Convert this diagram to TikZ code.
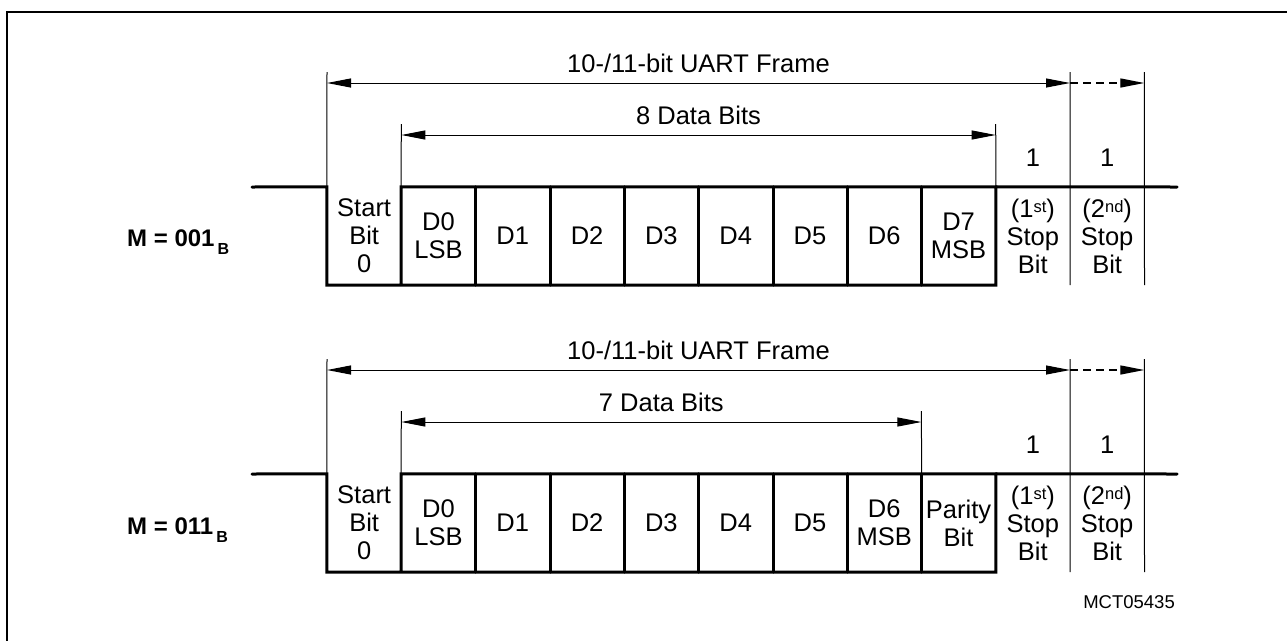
\documentclass[tikz,border=0pt]{standalone}
\usepackage{fontspec}
\setmainfont{Liberation Sans}
\usetikzlibrary{arrows.meta,calc}
\newcommand\supx[1]{\raisebox{4.5pt}{\fontsize{16.5}{16.5}\selectfont #1}}
\newcommand\subx[1]{\kern3pt\raisebox{-8pt}{\fontsize{16}{16}\selectfont #1}}
\begin{document}
\begin{tikzpicture}[x=1pt,y=-1pt,
  every node/.style={font=\fontsize{25.5}{28}\selectfont, inner sep=0pt},
  sig/.style={line width=3pt, line join=miter, line cap=round},
  thinl/.style={line width=1pt},
  cell/.style={minimum width=74.3pt, minimum height=98pt, align=center, inner sep=0pt},
  tip/.tip={Triangle[length=24pt,width=9pt]},
  arr/.style={thinl, tip-tip},
  darr/.style={line width=1.3pt, dash pattern=on 8pt off 5pt, -tip},
  mlabel/.style={anchor=base west, font=\fontsize{24}{26}\selectfont\bfseries},
  lbl/.style={anchor=base}
]
\useasboundingbox (0,0) rectangle (1287,641);
\draw[line width=2pt] (1287,12) -- (7,12) -- (7,641);
\def\bx#1{327+74.3*#1}

% ---------------- Row 1 ----------------
\node[cell] (a0) at ({\bx{0.5}},236) {Start\\Bit\\0};
\node[cell] (a1) at ({\bx{1.5}},236) {D0\\LSB};
\node[cell] (a2) at ({\bx{2.5}},236) {D1};
\node[cell] (a3) at ({\bx{3.5}},236) {D2};
\node[cell] (a4) at ({\bx{4.5}},236) {D3};
\node[cell] (a5) at ({\bx{5.5}},236) {D4};
\node[cell] (a6) at ({\bx{6.5}},236) {D5};
\node[cell] (a7) at ({\bx{7.5}},236) {D6};
\node[cell] (a8) at ({\bx{8.5}},236) {D7\\MSB};
\node[cell] (a9) at ({\bx{9.5}},236) {(1\supx{st})\\Stop\\Bit};
\node[cell] (a10) at ({\bx{10.5}},236) {(2\supx{nd})\\Stop\\Bit};

\coordinate (a-idle) at (252,187);
\coordinate (a-end) at (1177,187);
\draw[sig] (a-idle) -- (a0.north west) -- (a0.south west) -- (a8.south east)
  -- (a8.north east) -- (a1.north west) -- (a1.south west);
\draw[sig] (a8.north east) -- (a-end);
\foreach \i in {1,...,7} \draw[sig] (a\i.north east) -- (a\i.south east);

\coordinate (a-ft) at (327,72);
\coordinate (a-dt) at ({\bx{1}},124);
\coordinate (a-de) at ({\bx{9}},124);
\coordinate (a-s1) at ({\bx{10}},72);
\coordinate (a-s2) at ({\bx{11}},72);
\draw[thinl] (a-ft) -- (a0.north west);
\draw[thinl] (a-dt) -- (a1.north west);
\draw[thinl] (a-de) -- (a8.north east);
\draw[thinl] (a-s1) -- (a9.south east);
\draw[thinl] (a-s2) -- (a10.south east);

\coordinate (a-fl) at (327,83);
\coordinate (a-fr) at ({\bx{10}},83);
\coordinate (a-fr2) at ({\bx{11}},83);
\draw[arr] (a-fl) -- (a-fr);
\draw[darr] (a-fr) -- (a-fr2);
\node[lbl] (a-ftxt) at ({\bx{5}},72) {10-/11-bit UART Frame};

\coordinate (a-dl) at ({\bx{1}},135);
\coordinate (a-dr) at ({\bx{9}},135);
\draw[arr] (a-dl) -- (a-dr);
\node[lbl] (a-dtxt) at ({\bx{5}},124) {8 Data Bits};

\node[lbl] (a-one1) at ({\bx{9.5}},166) {1};
\node[lbl] (a-one2) at ({\bx{10.5}},166) {1};
\node[mlabel] (a-m) at (127,246) {M = 001\subx{B}};

% ---------------- Row 2 ----------------
\node[cell] (b0) at ({\bx{0.5}},523) {Start\\Bit\\0};
\node[cell] (b1) at ({\bx{1.5}},523) {D0\\LSB};
\node[cell] (b2) at ({\bx{2.5}},523) {D1};
\node[cell] (b3) at ({\bx{3.5}},523) {D2};
\node[cell] (b4) at ({\bx{4.5}},523) {D3};
\node[cell] (b5) at ({\bx{5.5}},523) {D4};
\node[cell] (b6) at ({\bx{6.5}},523) {D5};
\node[cell] (b7) at ({\bx{7.5}},523) {D6\\MSB};
\node[cell] (b8) at ({\bx{8.5}},523) {Parity\\Bit};
\node[cell] (b9) at ({\bx{9.5}},523) {(1\supx{st})\\Stop\\Bit};
\node[cell] (b10) at ({\bx{10.5}},523) {(2\supx{nd})\\Stop\\Bit};

\coordinate (b-idle) at (252,474);
\coordinate (b-end) at (1177,474);
\draw[sig] (b-idle) -- (b0.north west) -- (b0.south west) -- (b8.south east)
  -- (b8.north east) -- (b1.north west) -- (b1.south west);
\draw[sig] (b8.north east) -- (b-end);
\foreach \i in {1,...,7} \draw[sig] (b\i.north east) -- (b\i.south east);

\coordinate (b-ft) at (327,359);
\coordinate (b-dt) at ({\bx{1}},411);
\coordinate (b-de) at ({\bx{8}},411);
\coordinate (b-s1) at ({\bx{10}},359);
\coordinate (b-s2) at ({\bx{11}},359);
\draw[thinl] (b-ft) -- (b0.north west);
\draw[thinl] (b-dt) -- (b1.north west);
\draw[thinl] (b-de) -- (b7.north east);
\draw[thinl] (b-s1) -- (b9.south east);
\draw[thinl] (b-s2) -- (b10.south east);

\coordinate (b-fl) at (327,370);
\coordinate (b-fr) at ({\bx{10}},370);
\coordinate (b-fr2) at ({\bx{11}},370);
\draw[arr] (b-fl) -- (b-fr);
\draw[darr] (b-fr) -- (b-fr2);
\node[lbl] (b-ftxt) at ({\bx{5}},359) {10-/11-bit UART Frame};

\coordinate (b-dl) at ({\bx{1}},422);
\coordinate (b-dr) at ({\bx{8}},422);
\draw[arr] (b-dl) -- (b-dr);
\node[lbl] (b-dtxt) at ({\bx{4.5}},411) {7 Data Bits};

\node[lbl] (b-one1) at ({\bx{9.5}},453) {1};
\node[lbl] (b-one2) at ({\bx{10.5}},453) {1};
\node[mlabel] (b-m) at (127,534) {M = 011\subx{B}};

\node[anchor=base east, font=\fontsize{18.5}{20}\selectfont] (code) at (1175,608) {MCT05435};
\end{tikzpicture}
\end{document}
